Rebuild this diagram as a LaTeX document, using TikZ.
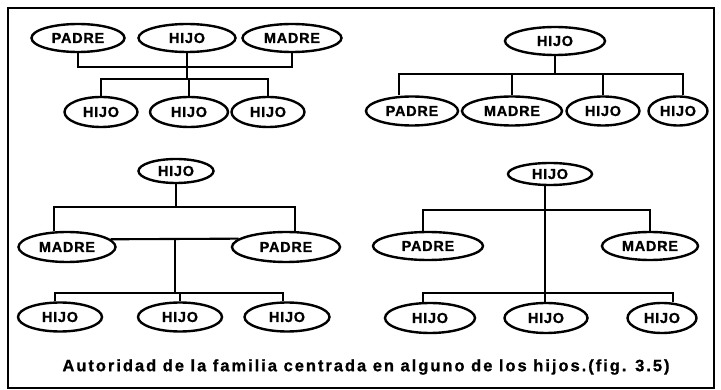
\documentclass[tikz,border=0pt]{standalone}
\usepackage{fontspec}
\setmainfont{Liberation Sans}
\newfontfamily\rotulo{Liberation Sans}[LetterSpace=5, FakeBold=1]
\newfontfamily\leyenda{Liberation Sans}[LetterSpace=12, FakeBold=1]
\usetikzlibrary{shapes.geometric, calc}

\begin{document}
\begin{tikzpicture}[x = 1pt, y = -1pt,
		persona/.style = {ellipse, draw, line width = 2.4pt, inner sep = 1pt, minimum height = 28pt, font = \rotulo\bfseries\fontsize{14.5}{15}\selectfont},
		rama/.style = {line width = 2.1pt}]
	
		\useasboundingbox (0, 0) rectangle (721, 390);
		\draw[line width = 2pt] (8, 8) rectangle (714, 388);
		
		% arriba a la izquierda
		\begin{scope}
			\node[persona, minimum width = 93pt] (a_padre) at (78, 38) {PADRE};
			\node[persona, minimum width = 97pt] (a_hijo) at (187, 38) {HIJO};
			\node[persona, minimum width = 99pt] (a_madre) at (292, 38) {MADRE};
			\node[persona, minimum width = 73pt, minimum height = 30pt] (a_h1) at (101, 112) {HIJO};
			\node[persona, minimum width = 78pt, minimum height = 30pt] (a_h2) at (189, 112) {HIJO};
			\node[persona, minimum width = 73pt, minimum height = 30pt] (a_h3) at (268, 112) {HIJO};
			\coordinate (a_padres) at (0, 67);
			\coordinate (a_hijos) at (0, 79);
			\draw[rama] (a_padre.south) -- (a_padre.south |- a_padres) -- (a_madre.south |- a_padres) -- (a_madre.south);
			\draw[rama] (a_hijo.south) -- (a_hijo.south |- a_hijos);
			\draw[rama] (a_h1.north) -- (a_h1.north |- a_hijos) -- (a_h3.north |- a_hijos) -- (a_h3.north);
			\draw[rama] (a_h2.north) -- (a_h2.north |- a_hijos);
		\end{scope}
		
		% arriba a la derecha
		\begin{scope}
			\node[persona, minimum width = 100pt] (b_hijo) at (555, 41) {HIJO};
			\node[persona, minimum width = 92pt, minimum height = 29pt] (b_padre) at (412, 111) {PADRE};
			\node[persona, minimum width = 100pt, minimum height = 29pt] (b_madre) at (512, 111) {MADRE};
			\node[persona, minimum width = 73pt, minimum height = 29pt] (b_h1) at (603, 111) {HIJO};
			\node[persona, minimum width = 59pt, minimum height = 29pt] (b_h2) at (678, 111) {HIJO};
			\coordinate (b_barra) at (0, 74);
			\draw[rama] (b_hijo.south) -- (b_hijo.south |- b_barra);
			\draw[rama] ($(b_padre.north) + (-13, 0)$) -- ($(b_padre.north |- b_barra) + (-13, 0)$) -- ($(b_h2.north |- b_barra) + (5, 0)$) -- ($(b_h2.north) + (5, 0)$);
			\draw[rama] (b_madre.north) -- (b_madre.north |- b_barra);
			\draw[rama] (b_h1.north) -- (b_h1.north |- b_barra);
		\end{scope}
		
		% abajo a la izquierda
		\begin{scope}
			\node[persona, minimum width = 75pt, minimum height = 24pt] (c_hijo) at (176, 171) {HIJO};
			\node[persona, minimum width = 97pt, minimum height = 30pt] (c_madre) at (67, 247) {MADRE};
			\node[persona, minimum width = 108pt, minimum height = 30pt] (c_padre) at (286, 247) {PADRE};
			\node[persona, minimum width = 84pt, minimum height = 29pt] (c_h1) at (60, 317) {HIJO};
			\node[persona, minimum width = 84pt, minimum height = 29pt] (c_h2) at (180, 317) {HIJO};
			\node[persona, minimum width = 85pt, minimum height = 29pt] (c_h3) at (287, 317) {HIJO};
			\coordinate (c_barra) at (0, 207);
			\coordinate (c_hijos) at (0, 293);
			\coordinate (c_union) at ($(c_madre.10)!0.5!(c_padre.170)$);
			\draw[rama] (c_hijo.south) -- (c_hijo.south |- c_barra);
			\draw[rama] ($(c_madre.north) + (-13, 0)$) -- ($(c_madre.north |- c_barra) + (-13, 0)$) -- ($(c_padre.north |- c_barra) + (9, 0)$) -- ($(c_padre.north) + (9, 0)$);
			\draw[rama] (c_madre.10) -- (c_padre.170);
			\draw[rama] (c_union) -- (c_union |- c_hijos);
			\draw[rama] ($(c_h1.north) + (-5, 0)$) -- ($(c_h1.north |- c_hijos) + (-5, 0)$) -- ($(c_h3.north |- c_hijos) + (-4, 0)$) -- ($(c_h3.north) + (-4, 0)$);
			\draw[rama] (c_h2.north) -- (c_h2.north |- c_hijos);
		\end{scope}
		
		% abajo a la derecha
		\begin{scope}
			\node[persona, minimum width = 84pt, minimum height = 22pt] (d_hijo) at (550, 174) {HIJO};
			\node[persona, minimum width = 110pt] (d_padre) at (428, 246) {PADRE};
			\node[persona, minimum width = 96pt] (d_madre) at (650, 246) {MADRE};
			\node[persona, minimum width = 90pt, minimum height = 30pt] (d_h1) at (430, 318) {HIJO};
			\node[persona, minimum width = 83pt, minimum height = 30pt] (d_h2) at (546, 318) {HIJO};
			\node[persona, minimum width = 69pt, minimum height = 30pt] (d_h3) at (662, 318) {HIJO};
			\coordinate (d_barra) at (0, 210);
			\coordinate (d_hijos) at (0, 293);
			\draw[rama] ($(d_hijo.south) + (-5, 0)$) -- ($(d_h2.north) + (-1, 0)$);
			\draw[rama] ($(d_padre.north) + (-5, 0)$) -- ($(d_padre.north |- d_barra) + (-5, 0)$) -- (d_madre.north |- d_barra) -- (d_madre.north);
			\draw[rama] ($(d_h1.north) + (-7, 0)$) -- ($(d_h1.north |- d_hijos) + (-7, 0)$) -- ($(d_h3.north |- d_hijos) + (11, 0)$) -- ($(d_h3.north) + (11, 0)$);
		\end{scope}
		
		\node[font = \leyenda\bfseries\fontsize{16.5}{18}\selectfont] (leyenda) at (366, 367) {Autoridad de la familia centrada en alguno de los hijos.(fig. 3.5)};
		
	\end{tikzpicture}
\end{document}
